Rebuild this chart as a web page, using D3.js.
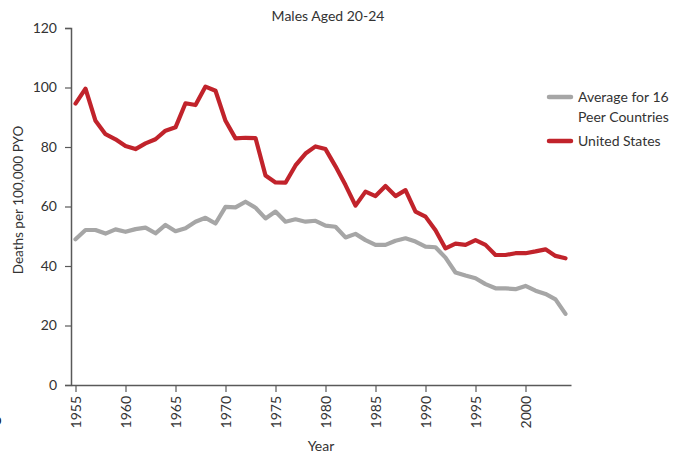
<!DOCTYPE html>
<html>
<head>
<meta charset="utf-8">
<script src="https://cdn.jsdelivr.net/npm/d3@7"></script>
<style>
  html, body { margin: 0; padding: 0; background: #fff; }
  svg { display: block; font-family: Lato, "Open Sans", sans-serif; }
</style>
</head>
<body>
<svg id="chart" width="677" height="453"></svg>
<script>
// Death rates, males aged 20-24, per 100,000 person-years
const years = d3.range(1955, 2005);
const peerAverage = [
  49.0, 52.1, 52.1, 50.9, 52.3, 51.5, 52.4, 52.9, 51.0, 53.8,
  51.7, 52.7, 54.9, 56.2, 54.3, 59.9, 59.7, 61.6, 59.6, 56.0,
  58.3, 54.9, 55.7, 54.9, 55.2, 53.6, 53.2, 49.6, 50.8, 48.7,
  47.1, 47.1, 48.5, 49.3, 48.2, 46.5, 46.3, 42.8, 37.8, 36.8,
  35.9, 33.9, 32.5, 32.5, 32.2, 33.3, 31.7, 30.6, 28.8, 23.9
];
const unitedStates = [
  94.6, 99.6, 88.8, 84.3, 82.6, 80.3, 79.3, 81.2, 82.6, 85.5,
  86.6, 94.7, 94.1, 100.3, 98.9, 88.8, 82.9, 83.1, 83.0, 70.4,
  68.1, 68.0, 73.8, 77.8, 80.2, 79.3, 73.5, 67.2, 60.3, 65.0,
  63.5, 66.9, 63.5, 65.5, 58.3, 56.6, 52.0, 45.9, 47.5, 47.1,
  48.7, 47.1, 43.7, 43.7, 44.3, 44.3, 44.9, 45.6, 43.4, 42.6
];
const yTicks = [0, 20, 40, 60, 80, 100, 120];
const xTicks = [1955, 1960, 1965, 1970, 1975, 1980, 1985, 1990, 1995, 2000];
const seriesNames = ["Average for 16 Peer Countries", "United States"];
const seriesColors = ["#a6a6a6", "#c1232b"];

const svg = d3.select("#chart");
const textColor = "#333333";
const axisColor = "#595959";
const fontSize = "14px";

const x = d3.scaleLinear().domain([1954.55, 2004.55]).range([71, 571]);
const y = d3.scaleLinear().domain([0, 120]).range([385, 28]);

// Y axis
const yAxis = svg.append("g")
  .attr("transform", "translate(71,0)")
  .call(d3.axisLeft(y).tickValues(yTicks).tickSize(6).tickPadding(8));
yAxis.select(".domain").attr("stroke", axisColor).attr("stroke-width", 1.5);
yAxis.selectAll(".tick line").attr("stroke", axisColor).attr("stroke-width", 1.2);
yAxis.selectAll(".tick text")
  .attr("fill", textColor).style("font-size", fontSize).style("font-family", "Lato, sans-serif");

// X axis
const xAxis = svg.append("g")
  .attr("transform", "translate(0,385)")
  .call(d3.axisBottom(x).tickValues(xTicks).tickFormat(d3.format("d")).tickSize(7).tickSizeOuter(0));
xAxis.select(".domain").attr("stroke", axisColor).attr("stroke-width", 1.5);
xAxis.selectAll(".tick line").attr("stroke", axisColor).attr("stroke-width", 1.2);
xAxis.selectAll(".tick text")
  .attr("fill", textColor)
  .style("font-size", fontSize).style("font-family", "Lato, sans-serif")
  .attr("transform", "rotate(-90)")
  .attr("text-anchor", "end")
  .attr("dy", "0.35em")
  .attr("x", -11)
  .attr("y", 0);

// Lines
const line = d3.line().x((d, i) => x(years[i])).y(d => y(d));
[peerAverage, unitedStates].forEach((vals, k) => {
  svg.append("path")
    .datum(vals)
    .attr("fill", "none")
    .attr("stroke", seriesColors[k])
    .attr("stroke-width", 4.2)
    .attr("stroke-linejoin", "round")
    .attr("stroke-linecap", "round")
    .attr("d", line);
});

// Title
svg.append("text")
  .attr("x", 328).attr("y", 21)
  .attr("text-anchor", "middle")
  .attr("fill", textColor)
  .style("font-size", fontSize)
  .text("Males Aged 20-24");

// Axis titles
svg.append("text")
  .attr("transform", "translate(23,200) rotate(-90)")
  .attr("text-anchor", "middle")
  .attr("fill", textColor)
  .style("font-size", "13.5px")
  .text("Deaths per 100,000 PYO");

svg.append("text")
  .attr("x", 321).attr("y", 451)
  .attr("text-anchor", "middle")
  .attr("fill", textColor)
  .style("font-size", fontSize)
  .text("Year");

// Legend
const legend = svg.append("g").attr("transform", "translate(549,0)");
const legendRows = [
  { y: 97, lines: ["Average for 16", "Peer Countries"] },
  { y: 141, lines: ["United States"] }
];
legendRows.forEach((row, k) => {
  legend.append("line")
    .attr("x1", 0).attr("x2", 22)
    .attr("y1", row.y).attr("y2", row.y)
    .attr("stroke", seriesColors[k])
    .attr("stroke-width", 4.5)
    .attr("stroke-linecap", "round");
  row.lines.forEach((t, j) => {
    legend.append("text")
      .attr("x", 29).attr("y", row.y + 5 + j * 19.5)
      .attr("fill", textColor)
      .style("font-size", fontSize)
      .text(t);
  });
});

// Panel letter, mostly off the left edge
svg.append("text")
  .attr("x", -7).attr("y", 425)
  .attr("fill", "#222")
  .style("font-size", "15px")
  .style("font-weight", "bold")
  .text("b");
</script>
</body>
</html>
